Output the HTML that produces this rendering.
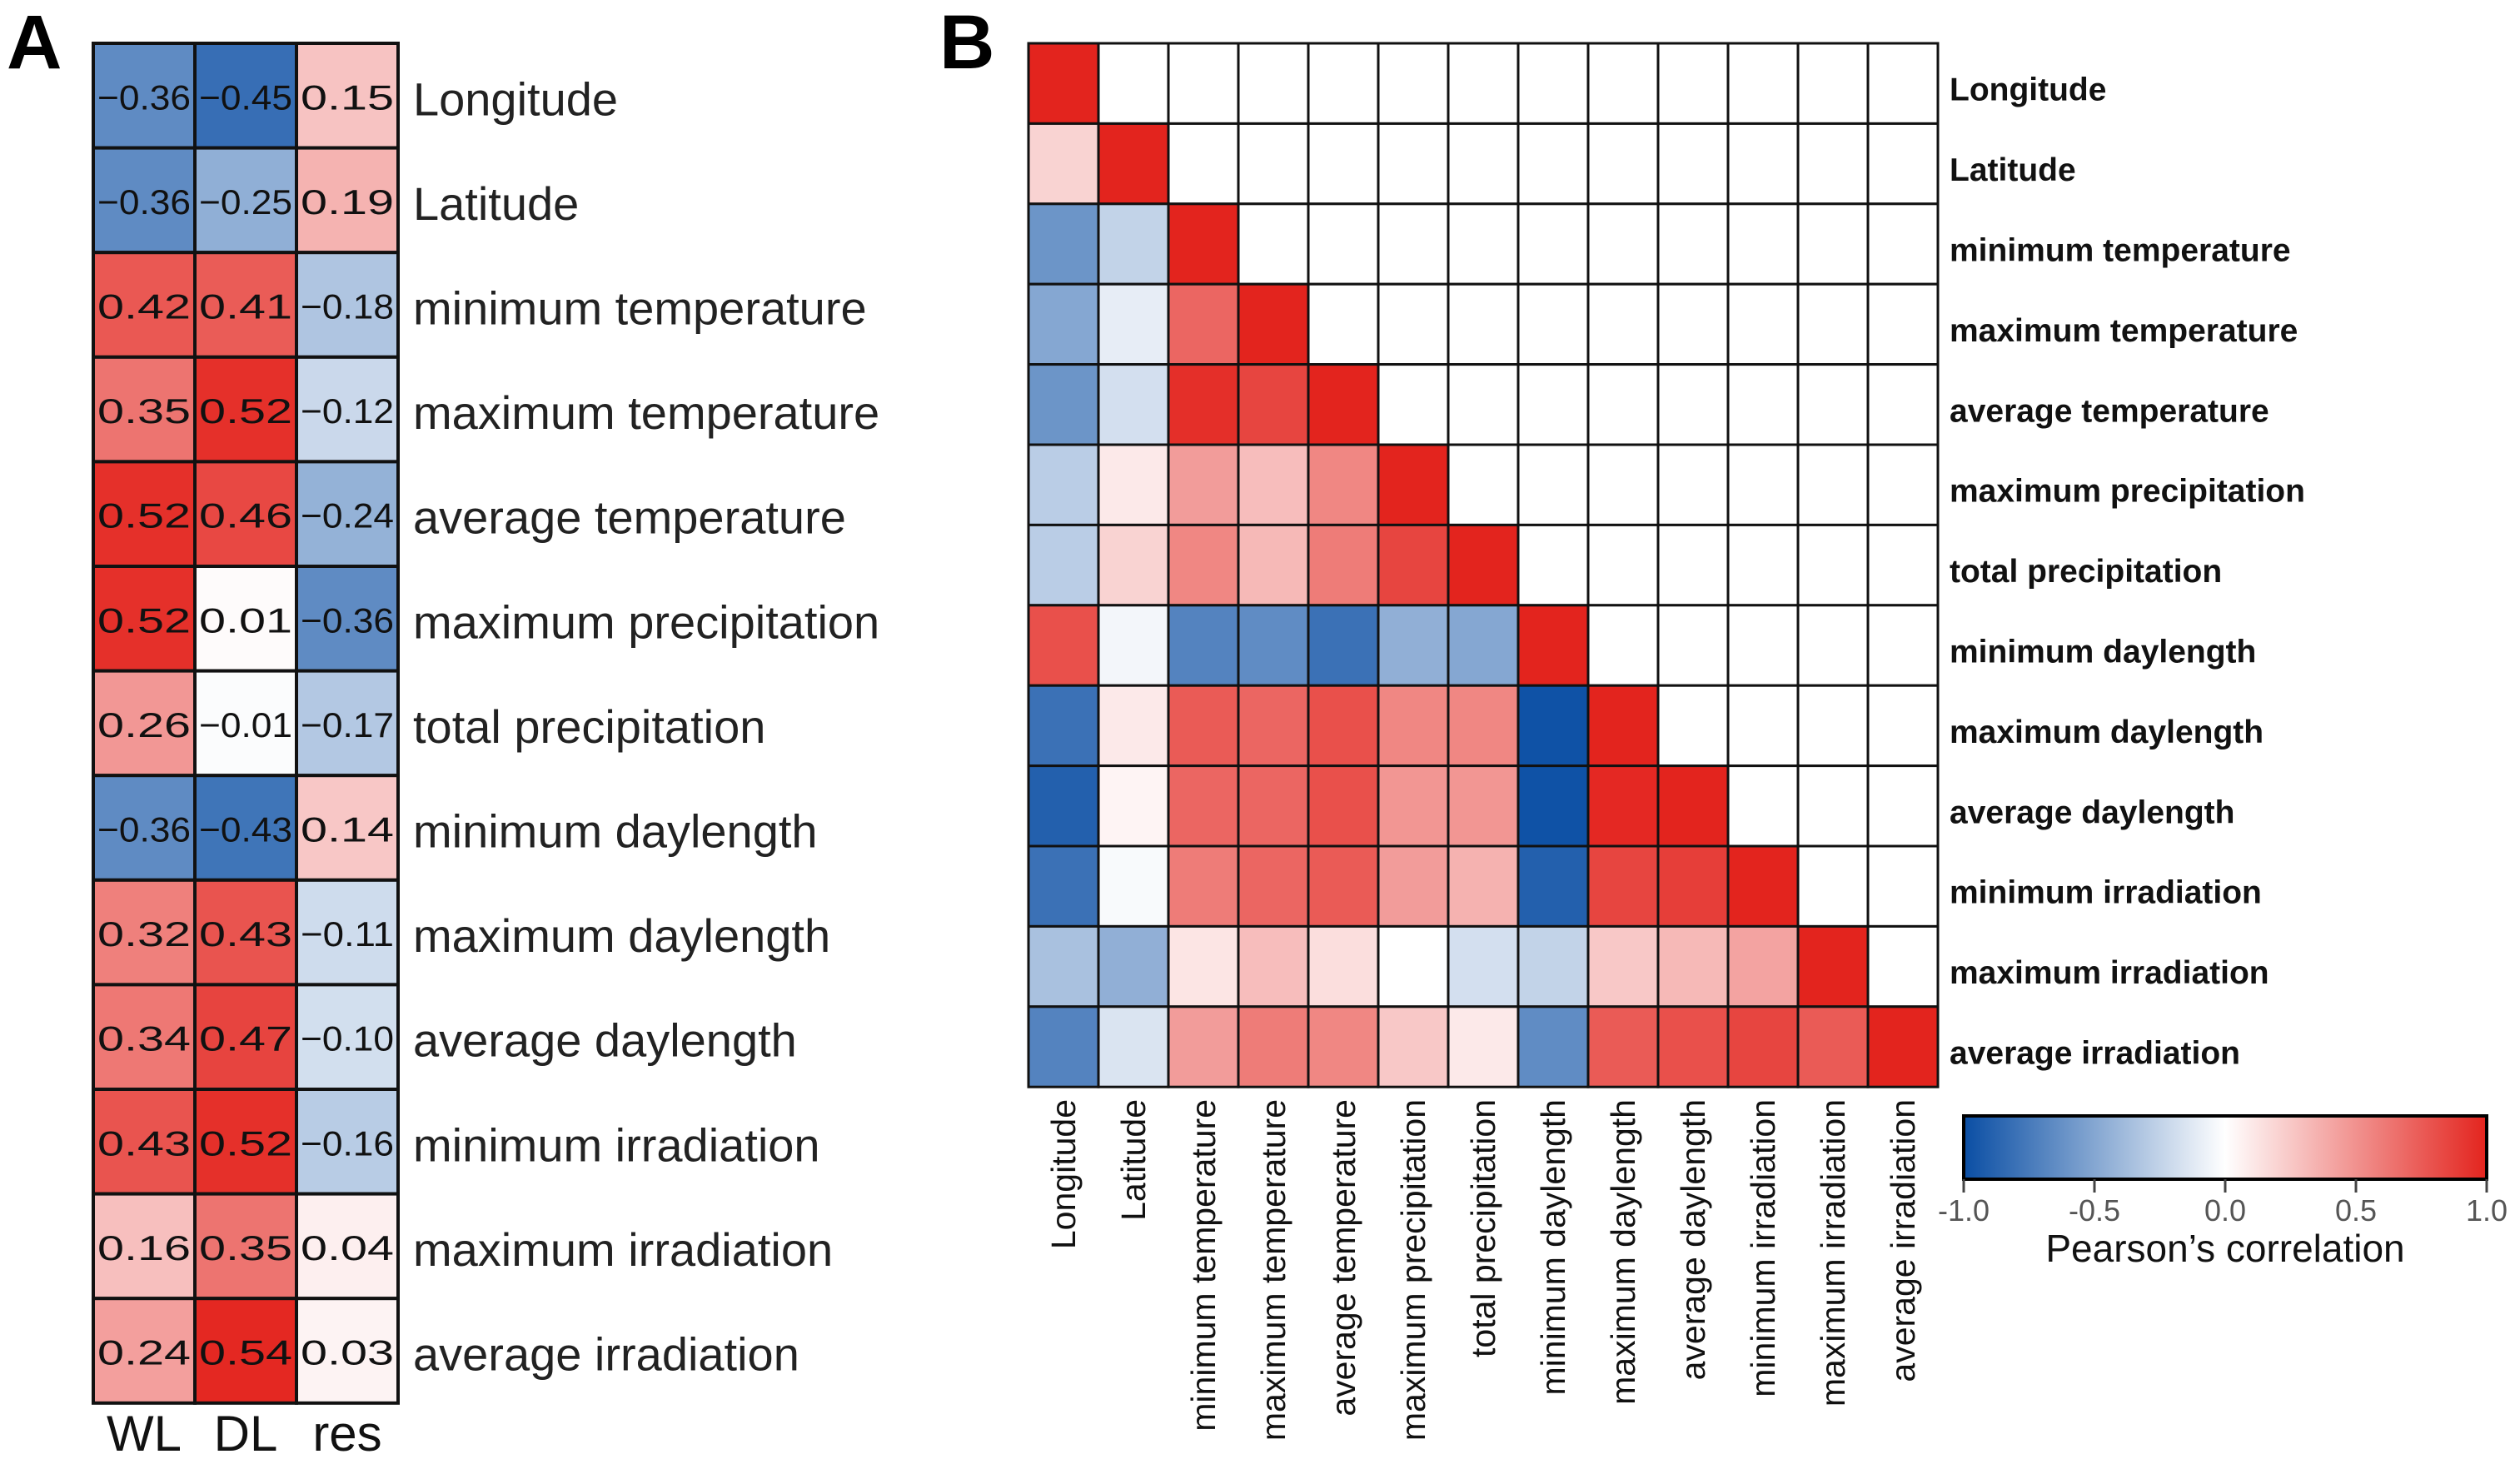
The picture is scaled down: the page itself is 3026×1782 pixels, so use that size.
<!DOCTYPE html>
<html><head><meta charset="utf-8"><style>
html,body{margin:0;padding:0;background:#fff;}
svg{display:block;font-family:"Liberation Sans",Arial,sans-serif;}
</style></head><body>
<svg id="fig" width="3026" height="1782" viewBox="0 0 3026 1782" xmlns="http://www.w3.org/2000/svg">
<defs>
<linearGradient id="cbar" x1="0" x2="1" y1="0" y2="0">
<stop offset="0" stop-color="#0a4ea4"/><stop offset="0.5" stop-color="#ffffff"/><stop offset="1" stop-color="#e3241e"/>
</linearGradient>
</defs>
<text x="8" y="82" font-size="92" font-weight="bold">A</text>
<text x="1128" y="82" font-size="92" font-weight="bold">B</text>
<g id="panelA"></g>
<g id="panelB"></g>
<g id="legend">
<rect x="2358" y="1340" width="628" height="76" fill="url(#cbar)" stroke="#000" stroke-width="4"/>
</g>
</svg>
<script>
const varsA = ["Longitude","Latitude","minimum temperature","maximum temperature","average temperature","maximum precipitation","total precipitation","minimum daylength","maximum daylength","average daylength","minimum irradiation","maximum irradiation","average irradiation"];
const colsA = ["WL","DL","res"];
const wlVals = [-0.36,-0.36,0.42,0.35,0.52,0.52,0.26,-0.36,0.32,0.34,0.43,0.16,0.24];
const dlVals = [-0.45,-0.25,0.41,0.52,0.46,0.01,-0.01,-0.43,0.43,0.47,0.52,0.35,0.54];
const resVals = [0.15,0.19,-0.18,-0.12,-0.24,-0.36,-0.17,0.14,-0.11,-0.10,-0.16,0.04,0.03];
const corrB = [
 [1],
 [0.2,1],
 [-0.6,-0.25,1],
 [-0.5,-0.1,0.7,1],
 [-0.6,-0.18,0.95,0.85,1],
 [-0.28,0.1,0.45,0.3,0.55,1],
 [-0.28,0.2,0.55,0.32,0.6,0.85,1],
 [0.8,-0.05,-0.7,-0.65,-0.8,-0.45,-0.5,1],
 [-0.8,0.1,0.75,0.7,0.8,0.55,0.55,-0.98,1],
 [-0.9,0.05,0.7,0.7,0.8,0.48,0.48,-0.98,0.98,1],
 [-0.8,-0.03,0.6,0.7,0.75,0.45,0.35,-0.9,0.85,0.88,1],
 [-0.35,-0.45,0.12,0.3,0.15,0.0,-0.18,-0.25,0.25,0.32,0.42,1],
 [-0.7,-0.15,0.45,0.6,0.55,0.25,0.1,-0.65,0.75,0.8,0.85,0.75,1]
];
const cbTicks = [-1.0,-0.5,0.0,0.5,1.0];
const cbTickLabels = ["-1.0","-0.5","0.0","0.5","1.0"];

const NS = "http://www.w3.org/2000/svg";
function mk(tag, attrs, parent){const e=document.createElementNS(NS,tag);for(const k in attrs)e.setAttribute(k,attrs[k]);parent.appendChild(e);return e;}
function color(v, lim){
  let t=Math.max(-1,Math.min(1,v/lim));
  const w=[255,255,255], b=[10,78,164], r=[227,36,30];
  const c=t<0?b:r; const a=Math.abs(t);
  return "rgb("+w.map((x,i)=>Math.round(x+(c[i]-x)*a)).join(",")+")";
}
function fmt(v){const s=Math.abs(v).toFixed(2);return (v<0?"\u22120":"0")+s.slice(1);}

// Panel A
const gA=document.getElementById("panelA");
const ax0=112, ay0=52, acw=122, arh=125.6;
const xA=i=>ax0+i*acw, yA=j=>ay0+j*arh;
const seriesA=[wlVals,dlVals,resVals];
seriesA.forEach((arr,ci)=>{
  arr.forEach((v,ri)=>{
    const r=mk("rect",{x:xA(ci),y:yA(ri),width:acw,height:arh,fill:color(v,0.55),stroke:"#111","stroke-width":4},gA);
    
    
    const t=mk("text",{x:xA(ci)+acw/2,y:yA(ri)+arh/2+2,"font-size":42,"text-anchor":"middle","dominant-baseline":"central",textLength:112,lengthAdjust:"spacingAndGlyphs",fill:"#111"},gA);
    t.textContent=fmt(v);
    
    
  });
});
varsA.forEach((n,ri)=>{
  const t=mk("text",{x:496,y:yA(ri)+arh/2+4,"font-size":56,"dominant-baseline":"central",fill:"#222"},gA);
  t.textContent=n;
  
  
});
colsA.forEach((n,ci)=>{
  const t=mk("text",{x:xA(ci)+acw/2,y:1742,"font-size":60,"text-anchor":"middle",fill:"#111"},gA);
  t.textContent=n;
  
  
});

// Panel B
const gB=document.getElementById("panelB");
const bx0=1235, by0=52, bcw=84, brh=96.4, N=varsA.length;
const xB=i=>bx0+i*bcw, yB=j=>by0+j*brh;
for(let r=0;r<N;r++){for(let c=0;c<N;c++){
  const v=c<=r?corrB[r][c]:null;
  const rc=mk("rect",{x:xB(c),y:yB(r),width:bcw,height:brh,fill:v===null?"#fff":color(v,1),stroke:"#111","stroke-width":3},gB);
  
  
}}
varsA.forEach((n,i)=>{
  const t=mk("text",{x:2341,y:yB(i)+brh/2+8,"font-size":39,"font-weight":"bold","dominant-baseline":"central",fill:"#111"},gB);
  t.textContent=n;
  
  
  const cx=xB(i)+bcw/2;
  const t2=mk("text",{x:cx,y:1320,"font-size":41,"text-anchor":"end","dominant-baseline":"central",transform:"rotate(-90 "+cx+" 1320)",fill:"#111"},gB);
  t2.textContent=n;
  
  
});

// Legend
const gL=document.getElementById("legend");
const lx0=2358, lx1=2986;
const xL=v=>lx0+(v+1)/2*(lx1-lx0);
cbTicks.forEach((v,i)=>{
  const tk=mk("line",{x1:xL(v),x2:xL(v),y1:1416,y2:1432,stroke:"#444","stroke-width":3},gL);
  
  
  const t=mk("text",{x:xL(v),y:1466,"font-size":36,"text-anchor":"middle",fill:"#555"},gL);
  t.textContent=cbTickLabels[i];
  
  
});
const lt=mk("text",{x:xL(0),y:1515,"font-size":46,"text-anchor":"middle",fill:"#111"},gL);
lt.textContent="Pearson\u2019s correlation";


</script>
</body></html>
